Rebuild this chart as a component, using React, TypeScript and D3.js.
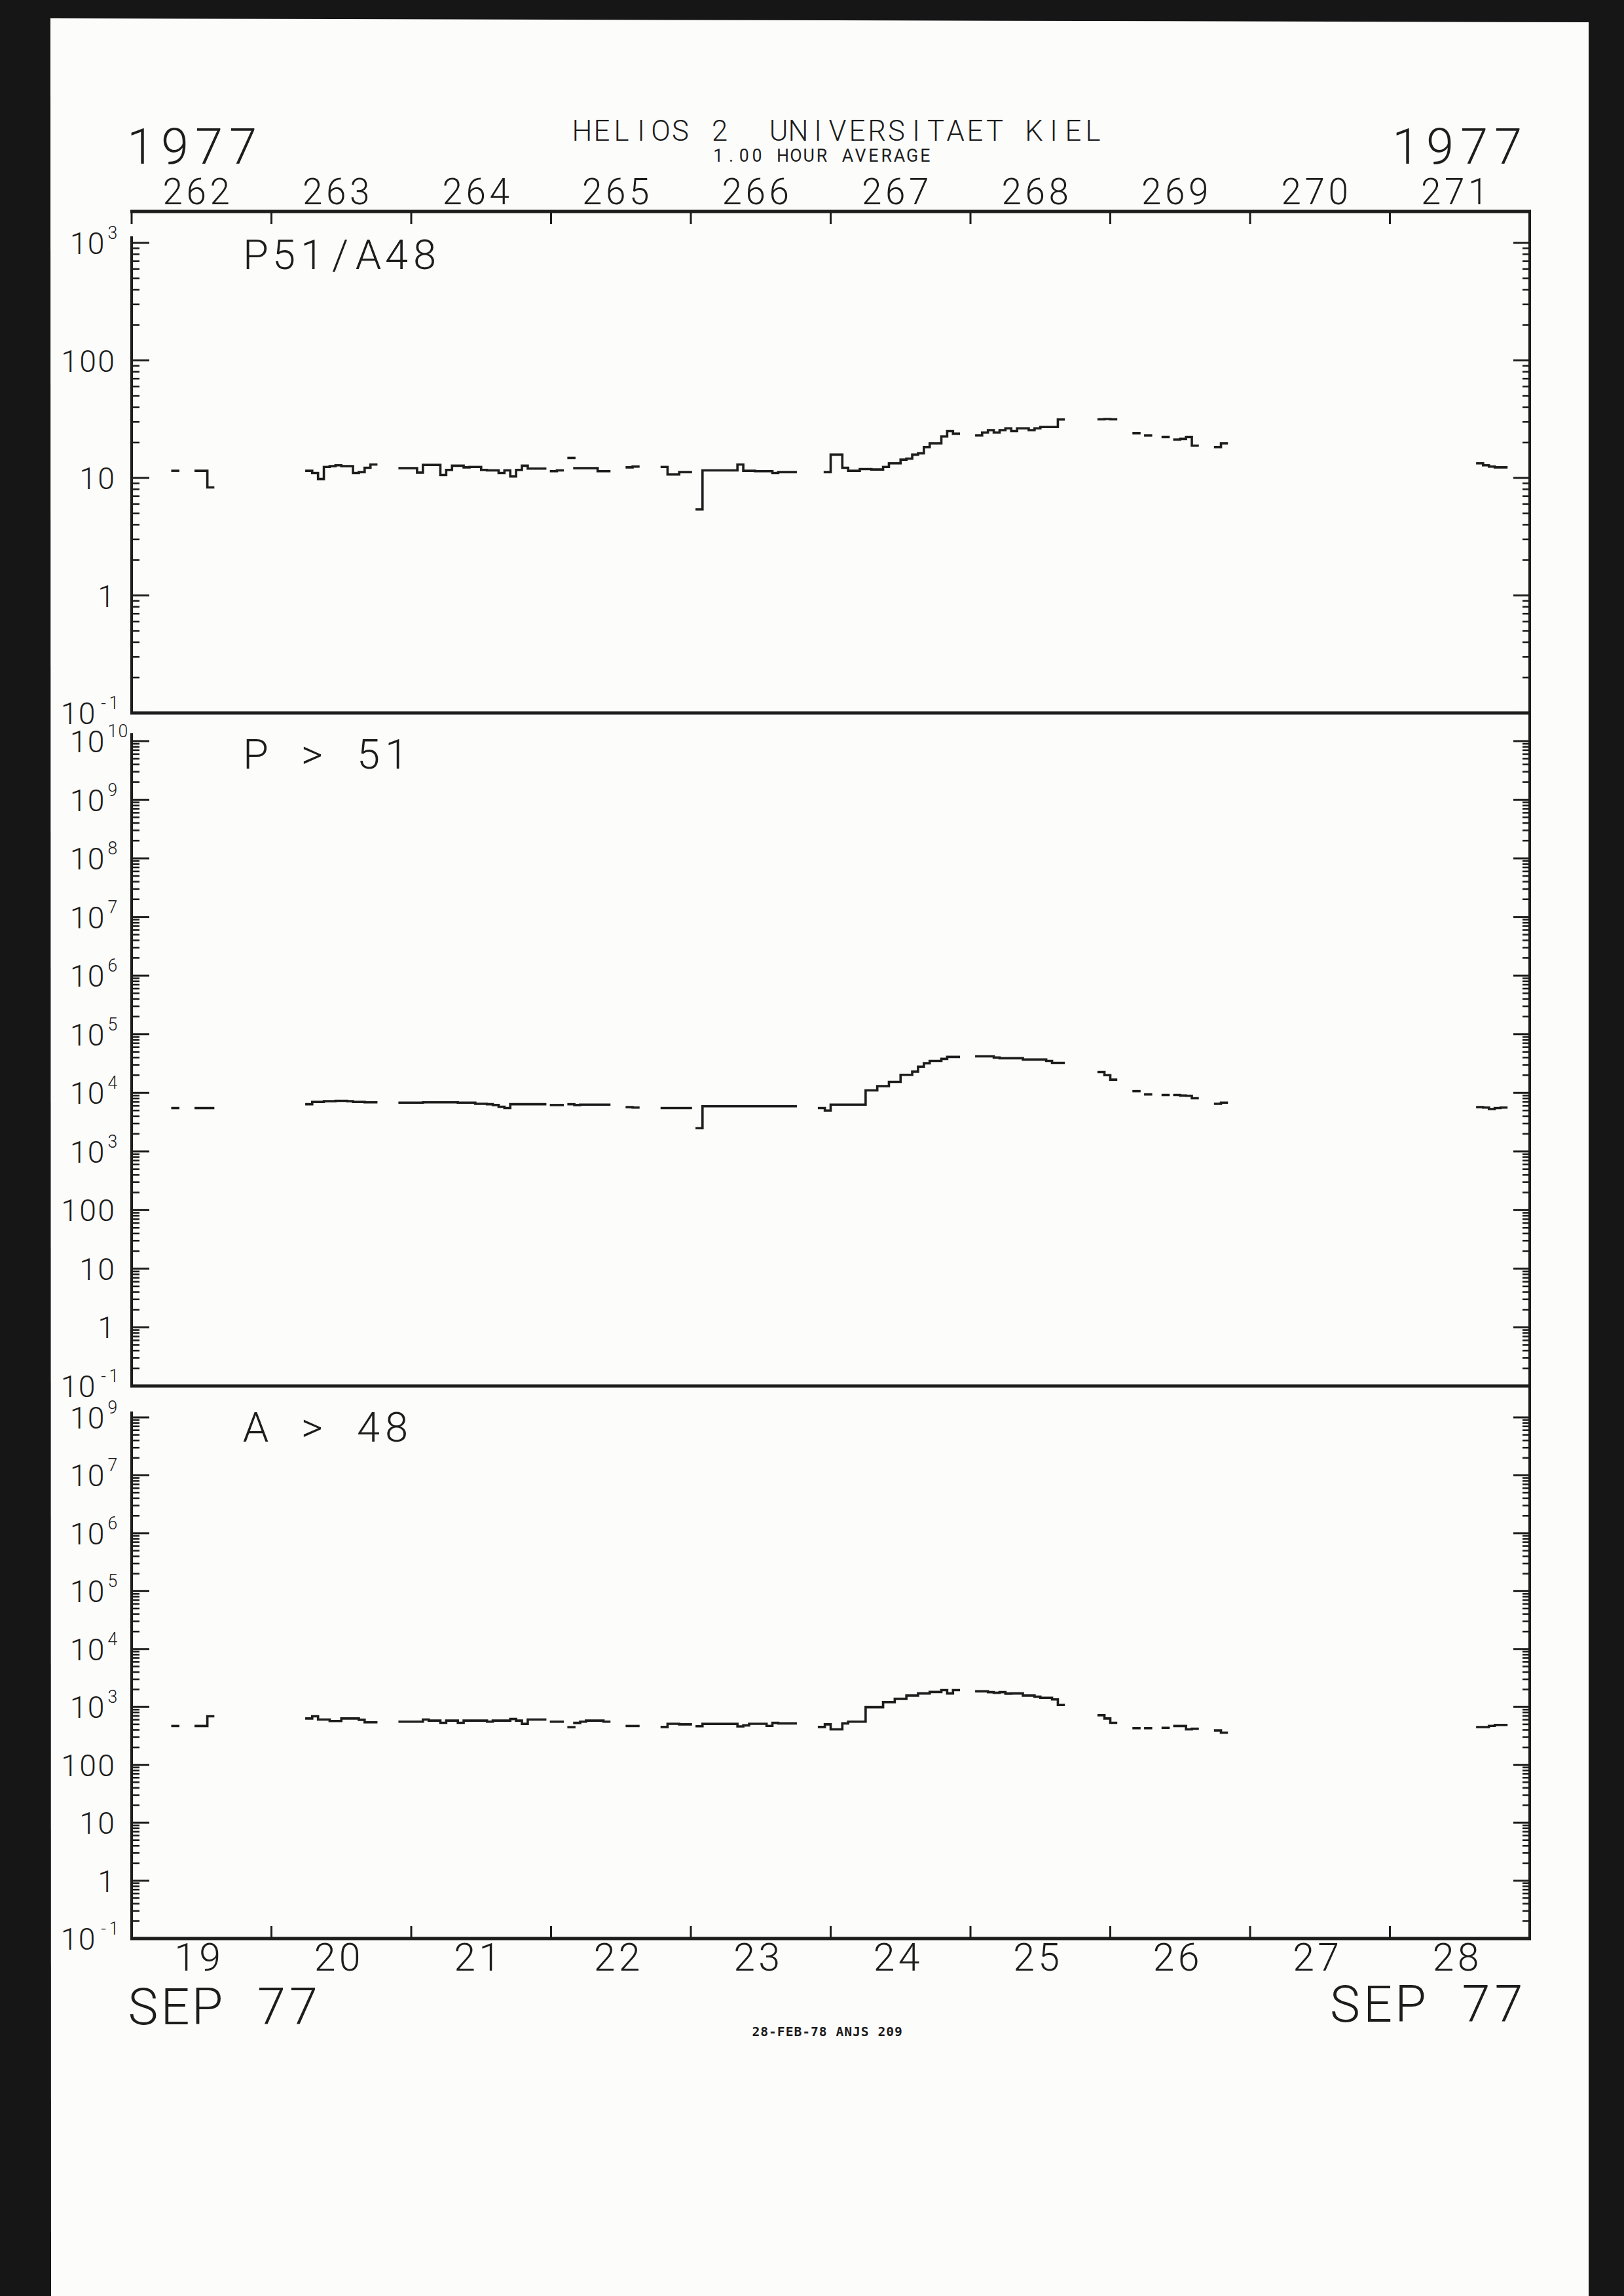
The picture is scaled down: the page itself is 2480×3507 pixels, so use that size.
import React from 'react';
import * as d3 from 'd3';

// ---------------- DATA (hourly averages, hours counted from day 262 00:00) ----------------
const DOY_LABELS = ['262', '263', '264', '265', '266', '267', '268', '269', '270', '271'];
const DATE_LABELS = ['19', '20', '21', '22', '23', '24', '25', '26', '27', '28'];

// [start hour, consecutive hourly values]
const RATIO_SEGMENTS: [number, number[]][] = [
  [7, [11.5]],
  [11, [11.5, 11.5, 8.3]],
  [30, [11.5, 11.0, 9.8, 12.4, 12.6, 12.8, 12.6, 12.6, 11.0, 11.2, 12.2, 13.0]],
  [46, [12.1, 12.1, 12.1, 11.1, 12.9, 12.9, 12.9, 10.6, 11.7, 12.7, 12.7, 12.3, 12.4, 12.4, 11.7, 11.6, 11.6, 11.0, 11.6, 10.3, 11.7, 12.7, 12.0, 12.0, 12.0]],
  [72, [11.4, 11.6]],
  [75, [14.8]],
  [76, [12.1, 12.1, 12.1, 12.1, 11.4, 11.4]],
  [85, [12.3, 12.5]],
  [91, [12.4, 10.7, 10.7, 11.2, 11.2]],
  [97, [5.4, 11.6, 11.6, 11.6, 11.6, 11.6, 11.6, 13.0, 11.5, 11.5, 11.4, 11.4, 11.4, 11.0, 11.2, 11.2, 11.2]],
  [119, [11.2, 15.8, 15.8, 12.2, 11.5, 11.5, 11.9, 11.9, 11.8, 11.8, 12.4, 13.3, 13.3, 14.3, 14.6, 15.8, 16.2, 18.3, 19.7, 19.7, 22.5, 25.0, 23.8]],
  [145, [23.0, 24.3, 25.5, 24.3, 25.5, 26.4, 25.0, 26.4, 26.4, 25.5, 26.4, 27.1, 27.1, 27.1, 31.4]],
  [166, [31.5, 31.7, 31.5]],
  [172, [24.0]],
  [174, [23.0]],
  [177, [22.3]],
  [179, [21.2, 21.5, 22.3, 18.8]],
  [186, [18.3, 19.7]],
  [231, [13.3, 12.8, 12.5, 12.3, 12.3]],
];

const PROTON_SEGMENTS: [number, number[]][] = [
  [7, [5500]],
  [11, [5500, 5500, 5500]],
  [30, [6400, 7000, 7000, 7200, 7200, 7300, 7300, 7200, 7000, 7000, 6900, 6900]],
  [46, [6800, 6800, 6800, 6800, 6900, 6900, 6900, 6900, 6900, 6900, 6800, 6800, 6800, 6500, 6500, 6400, 6200, 5800, 5500, 6400, 6400, 6400, 6400, 6400, 6400]],
  [72, [6200, 6200]],
  [75, [6400]],
  [76, [6200, 6300, 6300, 6300, 6300, 6300]],
  [85, [5700, 5600]],
  [91, [5500, 5500, 5500, 5500, 5500]],
  [97, [2500, 5900, 5900, 5900, 5900, 5900, 5900, 5900, 5900, 5900, 5900, 5900, 5900, 5900, 5900, 5900, 5900]],
  [118, [5500, 5000, 6300, 6300, 6300, 6300, 6300, 6300, 11000, 11000, 13000, 13000, 15400, 15400, 20300, 20300, 23000, 28000, 32000, 35000, 35000, 38000, 41000, 41000]],
  [145, [42000, 42000, 42000, 40000, 39000, 39000, 39000, 39000, 37000, 37000, 37000, 37000, 35000, 32500, 32500]],
  [166, [22600, 20000, 16800]],
  [172, [10700]],
  [174, [9400]],
  [177, [9200]],
  [179, [9200, 9000, 8900, 8100]],
  [186, [6500, 6800]],
  [231, [5700, 5600, 5300, 5500, 5600]],
];

const ALPHA_SEGMENTS: [number, number[]][] = [
  [7, [468]],
  [11, [468, 468, 690]],
  [30, [632, 690, 605, 605, 570, 570, 632, 632, 632, 600, 542, 542]],
  [46, [556, 556, 556, 556, 605, 580, 580, 532, 580, 580, 532, 580, 580, 580, 580, 556, 580, 580, 580, 620, 580, 509, 605, 605, 605]],
  [72, [556, 556]],
  [75, [447]],
  [76, [530, 556, 580, 580, 580, 556]],
  [85, [468, 468]],
  [91, [450, 512, 512, 500, 500]],
  [97, [463, 510, 510, 510, 510, 510, 510, 460, 480, 512, 512, 512, 470, 530, 520, 520, 520]],
  [118, [450, 500, 410, 410, 520, 556, 556, 556, 990, 990, 990, 1210, 1210, 1380, 1380, 1570, 1570, 1710, 1710, 1815, 1815, 1950, 1710, 1950]],
  [145, [1860, 1860, 1800, 1755, 1800, 1700, 1710, 1710, 1570, 1570, 1500, 1440, 1440, 1350, 1080]],
  [166, [720, 632, 532]],
  [172, [429]],
  [174, [429]],
  [177, [435]],
  [179, [468, 468, 410, 420]],
  [186, [393, 360]],
  [231, [448, 448, 470, 488, 488]],
];

// axis labels: [decade exponent, base text, superscript]
const RATIO_LABELS: [number, string, string][] = [
  [3, '10', '3'], [2, '100', ''], [1, '10', ''], [0, '1', ''], [-1, '10', '-1'],
];
const PROTON_LABELS: [number, string, string][] = [
  [10, '10', '10'], [9, '10', '9'], [8, '10', '8'], [7, '10', '7'], [6, '10', '6'], [5, '10', '5'],
  [4, '10', '4'], [3, '10', '3'], [2, '100', ''], [1, '10', ''], [0, '1', ''], [-1, '10', '-1'],
];
const ALPHA_LABELS: [number, string, string][] = [
  [8, '10', '9'], [7, '10', '7'], [6, '10', '6'], [5, '10', '5'], [4, '10', '4'], [3, '10', '3'],
  [2, '100', ''], [1, '10', ''], [0, '1', ''], [-1, '10', '-1'],
];

// ---------------- STYLE / LAYOUT ----------------
const W = 2480;
const H = 3507;
const INK = '#1d1d1d';
const FONT = "Roboto, 'DejaVu Sans', sans-serif";
const X0 = 201;
const X1 = 2336;
const TOP_AXIS_Y = 323;

const x = d3.scaleLinear().domain([0, 240]).range([X0, X1]);

function Mono(props: { text: string; x: number; y: number; adv: number; cap: number; anchor?: string; weight?: number; family?: string }) {
  const { text, adv, cap, anchor = 'start', weight = 300, family = FONT } = props;
  const n = text.length;
  const x0 = anchor === 'start' ? props.x : anchor === 'middle' ? props.x - (n * adv) / 2 : props.x - n * adv;
  const size = cap / 0.711;
  return (
    <g fontFamily={family} fontWeight={weight} fontSize={size} fill={INK} textAnchor="middle">
      {Array.from(text).map((c, i) =>
        c === ' ' ? null : (
          <text key={i} x={x0 + adv * (i + 0.5)} y={props.y}>
            {c}
          </text>
        )
      )}
    </g>
  );
}

function stepPath(seg: [number, number[]], y: d3.ScaleLogarithmic<number, number>) {
  const [h0, vals] = seg;
  const pts: [number, number][] = vals.map((v, i) => [h0 + i, v]);
  pts.push([h0 + vals.length, vals[vals.length - 1]]);
  return d3
    .line<[number, number]>()
    .x((d) => x(d[0]))
    .y((d) => y(d[1]))
    .curve(d3.curveStepAfter)(pts) as string;
}

function Panel(props: {
  top: number;
  bottom: number;
  axisTop: number;
  lo: number;
  hi: number;
  labels: [number, string, string][];
  segments: [number, number[]][];
  title: string;
  titleY: number;
}) {
  const { top, bottom, axisTop, lo, hi, labels, segments, title, titleY } = props;
  const y = d3.scaleLog().domain([Math.pow(10, lo), Math.pow(10, hi)]).range([bottom, top]);
  const majors = d3.range(lo, hi + 1).map((e) => Math.pow(10, e));
  const minors: number[] = [];
  for (let e = lo; e < hi; e++) for (let k = 2; k <= 9; k++) minors.push(k * Math.pow(10, e));
  return (
    <g>
      {/* axes */}
      <line x1={X0} x2={X0} y1={axisTop} y2={bottom} stroke={INK} strokeWidth={4} />
      <line x1={X0 - 2} x2={X1 + 2} y1={bottom} y2={bottom} stroke={INK} strokeWidth={5} />
      {majors.map((v, i) => (
        <g key={'M' + i} stroke={INK} strokeWidth={3}>
          <line x1={X0} x2={X0 + 27} y1={y(v)} y2={y(v)} />
          <line x1={X1} x2={X1 - 25} y1={y(v)} y2={y(v)} />
        </g>
      ))}
      {minors.map((v, i) => (
        <g key={'m' + i} stroke={INK} strokeWidth={2.6}>
          <line x1={X0} x2={X0 + 12} y1={y(v)} y2={y(v)} />
          <line x1={X1} x2={X1 - 11} y1={y(v)} y2={y(v)} />
        </g>
      ))}
      {/* tick labels */}
      {labels.map(([e, base, sup], i) => {
        const yy = y(Math.pow(10, e));
        if (sup) {
          const right = sup.startsWith('-') ? 146 : 160;
          return (
            <g key={'l' + i}>
              <Mono text={base} x={right} y={yy + 17} adv={27} cap={33} anchor="end" />
              <Mono text={sup} x={right + 4} y={yy - 6} adv={16} cap={19} anchor="start" />
            </g>
          );
        }
        return <Mono key={'l' + i} text={base} x={176} y={yy + 17} adv={28} cap={33} anchor="end" />;
      })}
      {/* title */}
      <Mono text={title} x={369} y={titleY} adv={43} cap={45} />
      {/* data */}
      {segments.map((s, i) => (
        <path key={'d' + i} d={stepPath(s, y)} fill="none" stroke={INK} strokeWidth={3.6} strokeLinejoin="miter" strokeLinecap="square" />
      ))}
    </g>
  );
}

export default function App() {
  const dayTicks = d3.range(0, 241, 24);
  return (
    <svg width={W} height={H} viewBox={`0 0 ${W} ${H}`} style={{ display: 'block', position: 'absolute', left: 0, top: 0 }}>
      <rect x={0} y={0} width={W} height={H} fill="#161616" />
      <polygon points={`77,28 2426,34 2426,${H} 78,${H}`} fill="#fcfcfb" />

      {/* header */}
      <Mono text="1977" x={189} y={250} adv={52} cap={54} />
      <Mono text="1977" x={2121} y={250} adv={52} cap={54} />
      <Mono text="HELIOS 2  UNIVERSITAET KIEL" x={874} y={215} adv={30} cap={31} />
      <Mono text="1.00 HOUR AVERAGE" x={1087} y={247} adv={19.75} cap={19} weight={400} />

      {/* top (day-of-year) axis */}
      <line x1={X0 - 2} x2={X1 + 2} y1={TOP_AXIS_Y} y2={TOP_AXIS_Y} stroke={INK} strokeWidth={5} />
      {dayTicks.map((h) => (
        <line key={'tt' + h} x1={x(h)} x2={x(h)} y1={TOP_AXIS_Y} y2={TOP_AXIS_Y + 19} stroke={INK} strokeWidth={3} />
      ))}
      {DOY_LABELS.map((t, i) => (
        <Mono key={'doy' + i} text={t} x={x(12 + 24 * i) - 8} y={312} adv={36} cap={39} anchor="middle" />
      ))}

      {/* right frame line */}
      <line x1={X1} x2={X1} y1={TOP_AXIS_Y} y2={2961} stroke={INK} strokeWidth={4} />

      <Panel top={371} bottom={1089} axisTop={361} lo={-1} hi={3} labels={RATIO_LABELS} segments={RATIO_SEGMENTS} title="P51/A48" titleY={411} />
      <Panel top={1132} bottom={2117} axisTop={1120} lo={-1} hi={10} labels={PROTON_LABELS} segments={PROTON_SEGMENTS} title="P > 51" titleY={1174} />
      <Panel top={2165} bottom={2961} axisTop={2156} lo={-1} hi={8} labels={ALPHA_LABELS} segments={ALPHA_SEGMENTS} title="A > 48" titleY={2202} />

      {/* bottom (date) axis */}
      {dayTicks.slice(1, -1).map((h) => (
        <line key={'bt' + h} x1={x(h)} x2={x(h)} y1={2961} y2={2942} stroke={INK} strokeWidth={3} />
      ))}
      {DATE_LABELS.map((t, i) => (
        <Mono key={'dt' + i} text={t} x={x(12 + 24 * i) - 6} y={3010} adv={38} cap={42} anchor="middle" />
      ))}
      <Mono text="SEP 77" x={194} y={3092} adv={49} cap={55} />
      <Mono text="SEP 77" x={2029} y={3088} adv={50} cap={55} />
      <Mono text="28-FEB-78 ANJS 209" x={1148} y={3110} adv={12.8} cap={14} weight={700} family="'DejaVu Sans Mono', monospace" />
    </svg>
  );
}
